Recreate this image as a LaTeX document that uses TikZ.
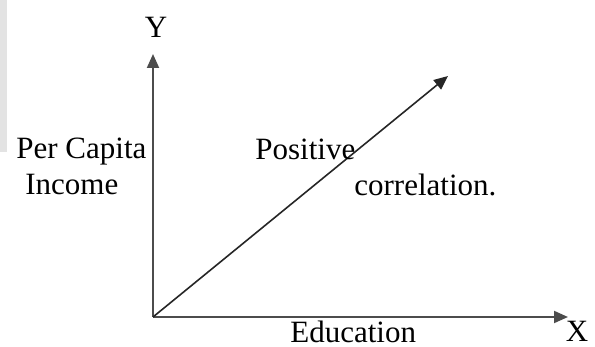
\documentclass[tikz,border=0pt]{standalone}
\usepackage{fontspec}
\setmainfont{Liberation Serif}
\usetikzlibrary{arrows.meta}
\begin{document}
\begin{tikzpicture}[x=0.5pt,y=-0.5pt,
  lbl/.style={inner sep=0pt,anchor=base west,font=\fontsize{15.5}{18}\selectfont},
  axis/.style={draw=black!70,line width=1pt,-{Triangle[length=7pt,width=6pt]}},
  diag/.style={draw=black!85,line width=0.8pt,-{Triangle[length=7pt,width=6pt]}}]
\useasboundingbox (0,0) rectangle (595,347);
\fill[gray!22] (0,0) rectangle (7,152);
\coordinate (O) at (153,317);
\coordinate (ytip) at (153,54);
\coordinate (xtip) at (568,317);
\coordinate (dtip) at (448,76);
\draw[axis] (O) -- (ytip);
\draw[axis] (O) -- (xtip);
\draw[diag] (O) -- (dtip);
\node[lbl,anchor=base] (ylab) at (156,38) {Y};
\node[lbl,anchor=base] (xlab) at (577,342) {X};
\node[lbl] (pc) at (16,159) {Per Capita};
\node[lbl] (inc) at (25,195) {Income};
\node[lbl] (pos) at (255,160) {Positive};
\node[lbl] (cor) at (354,196) {correlation.};
\node[lbl] (edu) at (290,343) {Education};
\end{tikzpicture}
\end{document}
